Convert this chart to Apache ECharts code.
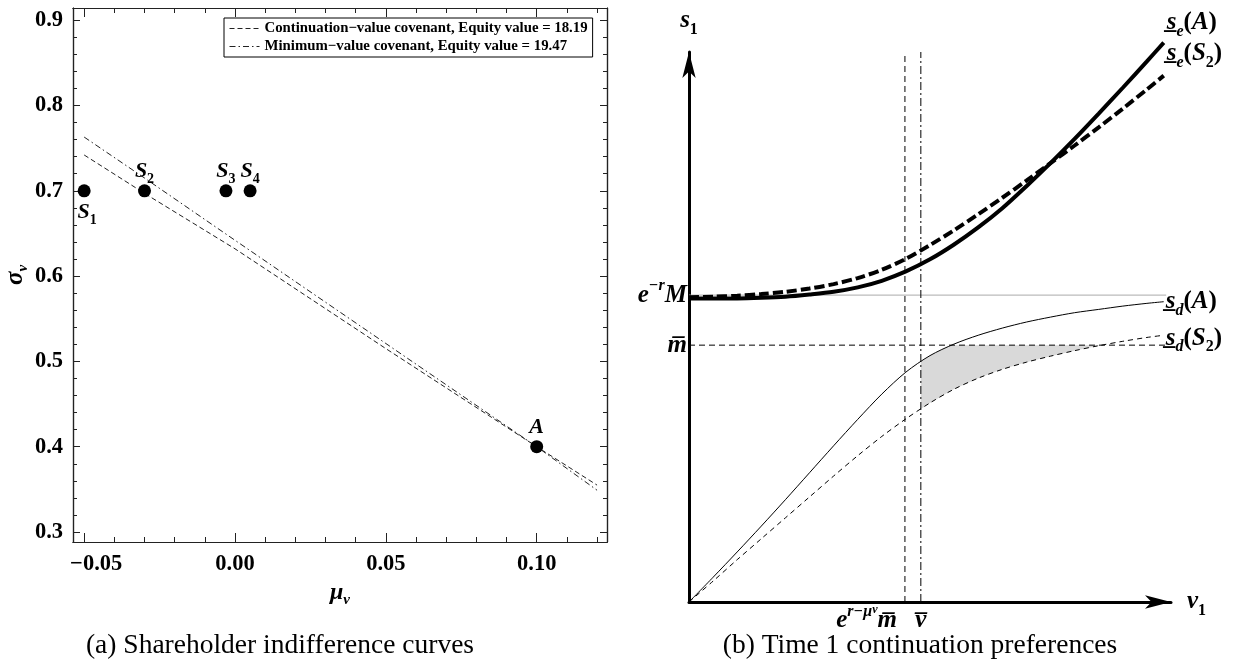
<!DOCTYPE html>
<html><head><meta charset="utf-8">
<script src="https://cdn.jsdelivr.net/npm/echarts@6/dist/echarts.min.js"></script>
<style>html,body{margin:0;padding:0;background:#fff}#c{width:1237px;height:664px}</style>
</head><body><div id="c"></div>
<script>
// ---------- Panel (a): shareholder indifference curves ----------
const muGrid        = [-0.05, -0.03, 0.00, 0.05, 0.10, 0.12];
const contCovenant  = [0.742, 0.697, 0.632, 0.515, 0.400, 0.355];
const minCovenant   = [0.763, 0.715, 0.642, 0.521, 0.400, 0.349];
const legendNames   = ['Continuation\u2212value covenant, Equity value = 18.19',
                       'Minimum\u2212value covenant, Equity value = 19.47'];
const pointNames    = ['S1', 'S2', 'S3', 'S4', 'A'];
const pointMu       = [-0.05, -0.03, -0.003, 0.005, 0.10];
const pointSigma    = [0.70, 0.70, 0.70, 0.70, 0.40];
const xMajorTicks   = [-0.05, 0.00, 0.05, 0.10];
const xMinorTicks   = [-0.04, -0.03, -0.02, -0.01, 0.01, 0.02, 0.03, 0.04, 0.06, 0.07, 0.08, 0.09, 0.11, 0.12];
const yMajorTicks   = [0.3, 0.4, 0.5, 0.6, 0.7, 0.8, 0.9];
const yMinorTicks   = [0.32, 0.34, 0.36, 0.38, 0.42, 0.44, 0.46, 0.48, 0.52, 0.54, 0.56, 0.58,
                       0.62, 0.64, 0.66, 0.68, 0.72, 0.74, 0.76, 0.78, 0.82, 0.84, 0.86, 0.88];
const xRangeA = [-0.0537, 0.1233];
const yRangeA = [0.2883, 0.9143];

// ---------- Panel (b): time 1 continuation preferences ----------
const v1Grid = [0, 0.5, 1, 1.5, 2, 2.5, 3, 3.5, 4, 4.5, 5, 5.5, 6, 6.5, 7, 7.5, 8, 8.5, 9, 9.5, 9.85];
const seA  = [5.52, 5.52, 5.52, 5.53, 5.55, 5.59, 5.64, 5.72, 5.84, 6.01, 6.23, 6.50, 6.81, 7.16, 7.56, 7.98, 8.42, 8.88, 9.35, 9.83, 10.17];
const seS2 = [5.54, 5.55, 5.57, 5.60, 5.64, 5.70, 5.78, 5.89, 6.04, 6.24, 6.49, 6.76, 7.05, 7.35, 7.66, 7.98, 8.30, 8.63, 8.97, 9.32, 9.57];
const sdA  = [0, 0.45, 0.91, 1.38, 1.86, 2.35, 2.84, 3.32, 3.78, 4.18, 4.48, 4.69, 4.85, 4.98, 5.09, 5.18, 5.26, 5.32, 5.38, 5.43, 5.46];
const sdS2 = [0, 0.38, 0.77, 1.15, 1.53, 1.91, 2.29, 2.66, 3.01, 3.33, 3.62, 3.87, 4.07, 4.23, 4.36, 4.47, 4.57, 4.66, 4.74, 4.81, 4.85];
const eMinusRM = 5.58;
const mBar     = 4.67;
const erMuMbar = 4.48;
const vBar     = 4.81;
const guideEnd = 9.9;
const axisTopB = 10;
const shadeV      = [4.81, 5.0, 5.2, 5.45, 6, 6.5, 7, 7.5, 8, 8.55];
const shadeTop    = [4.37, 4.48, 4.57, 4.67, 4.67, 4.67, 4.67, 4.67, 4.67, 4.67];
const shadeBottom = [3.51, 3.62, 3.72, 3.85, 4.07, 4.23, 4.36, 4.47, 4.57, 4.67];

// ---------- styling helpers ----------
const serif = '"Liberation Serif", "Times New Roman", serif';
const ink = '#000';
function rs(size, opts) {
  return Object.assign({fontFamily: serif, fontSize: size, fontWeight: 'bold', fontStyle: 'italic', color: ink}, opts || {});
}
function richSet(big, small, tiny, lh) {
  return {
    b:   rs(big, {lineHeight: lh}),
    r:   rs(big, {lineHeight: lh, fontStyle: 'normal'}),
    sub: rs(small, {lineHeight: small, verticalAlign: 'bottom'}),
    subn: rs(small, {lineHeight: small, verticalAlign: 'bottom', fontStyle: 'normal'}),
    sup: rs(small, {lineHeight: small, verticalAlign: 'top'}),
    sups: rs(tiny, {lineHeight: small + 5, verticalAlign: 'top'})
  };
}
const RICH  = richSet(22, 14, 11, 30);
const RICHB = richSet(25, 16, 12, 34);
const tickFont = {fontFamily: serif, fontWeight: 'bold', fontSize: 22.5, color: ink};
const frameColor = '#222';

function frameAxis(kind, pos, ticks, len, withLabels) {
  const isX = kind === 'x';
  const ax = {
    type: 'value', gridIndex: 0, position: pos,
    min: isX ? xRangeA[0] : yRangeA[0], max: isX ? xRangeA[1] : yRangeA[1],
    axisLine: {show: true, onZero: false, lineStyle: {color: frameColor, width: 1.2}},
    axisTick: {show: true, inside: true, length: len, customValues: ticks, lineStyle: {color: frameColor, width: 1}},
    axisLabel: {show: false},
    splitLine: {show: false}
  };
  if (withLabels) {
    ax.axisLabel = Object.assign({show: true, customValues: ticks, margin: isX ? 11 : 10,
      rich: {p: {width: 24}},
      formatter: function (v) {
        const s = isX ? Math.abs(v).toFixed(2) : Math.abs(v).toFixed(1);
        if (v < -1e-9) return '{p|}\u2212' + s;
        return s;
      }}, tickFont);
  }
  return ax;
}

const xAxes = [
  Object.assign(frameAxis('x', 'bottom', xMajorTicks, 9, true), {
    name: '{m|\u03bc}{s|\u03bd}', nameLocation: 'middle', nameGap: 30,
    nameTextStyle: {rich: {m: rs(24, {lineHeight: 30}), s: rs(15, {lineHeight: 15, verticalAlign: 'bottom'})}}
  }),
  frameAxis('x', 'bottom', xMinorTicks, 5, false),
  frameAxis('x', 'top', xMajorTicks, 9, false),
  frameAxis('x', 'top', xMinorTicks, 5, false),
  {
    type: 'value', gridIndex: 1, position: 'bottom', min: 0, max: 10,
    axisLine: {show: true, onZero: false, symbol: ['none', 'arrow'], symbolSize: [10, 26], symbolOffset: [0, 0],
      lineStyle: {color: ink, width: 3}},
    axisTick: {show: false}, splitLine: {show: false},
    axisLabel: {customValues: [vBar], margin: 2, formatter: function () { return '{b|v\u0305}'; }, rich: RICHB},
    name: '{b|v}{subn|1}', nameLocation: 'end', nameGap: 16, nameTextStyle: {rich: RICHB}
  },
  {
    type: 'value', gridIndex: 1, position: 'bottom', min: 0, max: 10,
    axisLine: {show: false}, axisTick: {show: false}, splitLine: {show: false},
    axisLabel: {customValues: [erMuMbar], margin: 2, align: 'right', padding: [0, 8, 0, 0],
      formatter: function () { return '{b|e}{sup|r\u2212\u03bc}{sups|\u03bd}{b|m\u0305}'; }, rich: RICHB}
  }
];

const yAxes = [
  Object.assign(frameAxis('y', 'left', yMajorTicks, 7, true), {
    name: '{m|\u03c3}{s|\u03bd}', nameLocation: 'middle', nameGap: 42,
    nameTextStyle: {rich: {m: rs(25, {lineHeight: 30}), s: rs(15, {lineHeight: 15, verticalAlign: 'bottom'})}}
  }),
  frameAxis('y', 'left', yMinorTicks, 4, false),
  frameAxis('y', 'right', yMajorTicks, 7, false),
  frameAxis('y', 'right', yMinorTicks, 4, false),
  {
    type: 'value', gridIndex: 1, position: 'left', min: 0, max: axisTopB,
    axisLine: {show: true, onZero: false, symbol: ['none', 'arrow'], symbolSize: [10, 26], symbolOffset: [0, 0],
      lineStyle: {color: ink, width: 3}},
    axisTick: {show: false}, splitLine: {show: false},
    axisLabel: {customValues: [eMinusRM, mBar], margin: 2,
      formatter: function (v) { return v === eMinusRM ? '{b|e}{sup|\u2212r}{b|M}' : '{b|m\u0305}'; }, rich: RICHB},
    name: '{b|s}{subn|1}', nameLocation: 'end', nameGap: 14, nameTextStyle: {rich: RICHB}
  }
];

function pair(xs, ys) { return xs.map(function (x, i) { return [x, ys[i]]; }); }
function pointLabel(n) {
  return n.length > 1 ? '{b|' + n[0] + '}{subn|' + n.slice(1) + '}' : '{b|' + n + '}';
}
function curveB(name, ys, width, type) {
  return {
    type: 'line', name: name, xAxisIndex: 4, yAxisIndex: 4, data: pair(v1Grid, ys),
    showSymbol: false, symbol: 'none', smooth: 0.3, clip: false, silent: true, z: 5,
    lineStyle: {color: ink, width: width, type: type}
  };
}
function guide(data, color, type) {
  return {type: 'line', xAxisIndex: 4, yAxisIndex: 4, data: data, symbol: 'none', silent: true, z: 3,
    lineStyle: {color: color, width: 1, type: type}};
}

const last = v1Grid.length - 1;
const endLabels = [
  {value: [v1Grid[last], seA[last]],  txt: '{b|s\u0332}{sub|e}{r|(}{b|A}{r|)}',  off: [3, -20]},
  {value: [v1Grid[last], seS2[last]], txt: '{b|s\u0332}{sub|e}{r|(}{b|S}{subn|2}{r|)}', off: [3, -22]},
  {value: [v1Grid[last], sdA[last]],  txt: '{b|s\u0332}{sub|d}{r|(}{b|A}{r|)}',  off: [2, 0]},
  {value: [v1Grid[last], sdS2[last]], txt: '{b|s\u0332}{sub|d}{r|(}{b|S}{subn|2}{r|)}', off: [2, 3]}
];

const option = {
  animation: false,
  backgroundColor: '#fff',
  title: [
    {text: '(a) Shareholder indifference curves', left: 275, top: 627, textAlign: 'center',
     textStyle: {fontFamily: serif, fontSize: 27.5, fontWeight: 'normal', color: ink}},
    {text: '(b) Time 1 continuation preferences', left: 915, top: 627, textAlign: 'center',
     textStyle: {fontFamily: serif, fontSize: 27.5, fontWeight: 'normal', color: ink}}
  ],
  legend: {
    data: legendNames, orient: 'vertical', left: 224, top: 18,
    borderColor: '#000', borderWidth: 1, borderRadius: 0, padding: [3, 5, 3, 5], itemGap: 3,
    itemWidth: 30, itemHeight: 12, backgroundColor: '#fff',
    itemStyle: {opacity: 0},
    lineStyle: {width: 1},
    textStyle: {fontFamily: serif, fontWeight: 'bold', fontSize: 14.8, color: ink}
  },
  grid: [
    {left: 73, top: 8, width: 534, height: 534, outerBoundsMode: 'none', containLabel: false},
    {left: 689, top: 52, width: 482, height: 550, outerBoundsMode: 'none', containLabel: false}
  ],
  xAxis: xAxes,
  yAxis: yAxes,
  series: [
    {type: 'line', name: legendNames[0], xAxisIndex: 0, yAxisIndex: 0, data: pair(muGrid, contCovenant),
     symbol: 'none', showSymbol: false, z: 3, itemStyle: {color: '#222'}, lineStyle: {color: '#222', width: 1, type: [5, 3]}},
    {type: 'line', name: legendNames[1], xAxisIndex: 0, yAxisIndex: 0, data: pair(muGrid, minCovenant),
     symbol: 'none', showSymbol: false, z: 3, itemStyle: {color: '#222'}, lineStyle: {color: '#222', width: 1, type: [6, 3, 1.5, 3]}},
    {type: 'scatter', xAxisIndex: 0, yAxisIndex: 0, symbol: 'circle', symbolSize: 13, z: 6,
     itemStyle: {color: ink, opacity: 1},
     data: pointNames.map(function (n, i) {
       return {value: [pointMu[i], pointSigma[i]], name: n,
         label: n === 'S1' ? {position: 'bottom', distance: 0, offset: [3, 0]} : {position: 'top', distance: -2}};
     }),
     label: {show: true, formatter: function (p) { return pointLabel(p.name); }, rich: RICH}},

    // panel (b)
    {type: 'custom', xAxisIndex: 4, yAxisIndex: 4, z: 1, silent: true, data: [[vBar, mBar]],
     renderItem: function (params, api) {
       const pts = [];
       for (let i = 0; i < shadeV.length; i++) pts.push(api.coord([shadeV[i], shadeTop[i]]));
       for (let i = shadeV.length - 1; i >= 0; i--) pts.push(api.coord([shadeV[i], shadeBottom[i]]));
       return {type: 'polygon', shape: {points: pts}, style: {fill: '#d9d9d9', stroke: null}};
     }},
    guide([[0, eMinusRM], [guideEnd, eMinusRM]], '#aaa', 'solid'),
    guide([[0, mBar], [guideEnd, mBar]], ink, [6, 4]),
    guide([[erMuMbar, 0], [erMuMbar, axisTopB]], ink, [6, 4]),
    guide([[vBar, 0], [vBar, axisTopB]], ink, [8, 3, 2, 3]),
    curveB('sdA', sdA, 1, 'solid'),
    curveB('sdS2', sdS2, 1, [5, 4]),
    curveB('seA', seA, 4, 'solid'),
    curveB('seS2', seS2, 4, [10, 4]),
    {type: 'scatter', xAxisIndex: 4, yAxisIndex: 4, symbolSize: 0, silent: true, clip: false, z: 7,
     itemStyle: {color: ink, opacity: 1},
     data: endLabels.map(function (d) {
       return {value: d.value, label: {show: true, position: 'right', distance: 0, offset: d.off,
         color: ink, opacity: 1, formatter: d.txt, rich: RICHB}};
     })}
  ]
};

const chart = echarts.init(document.getElementById('c'), null, {renderer: 'canvas'});
chart.setOption(option);
</script>
</body></html>
